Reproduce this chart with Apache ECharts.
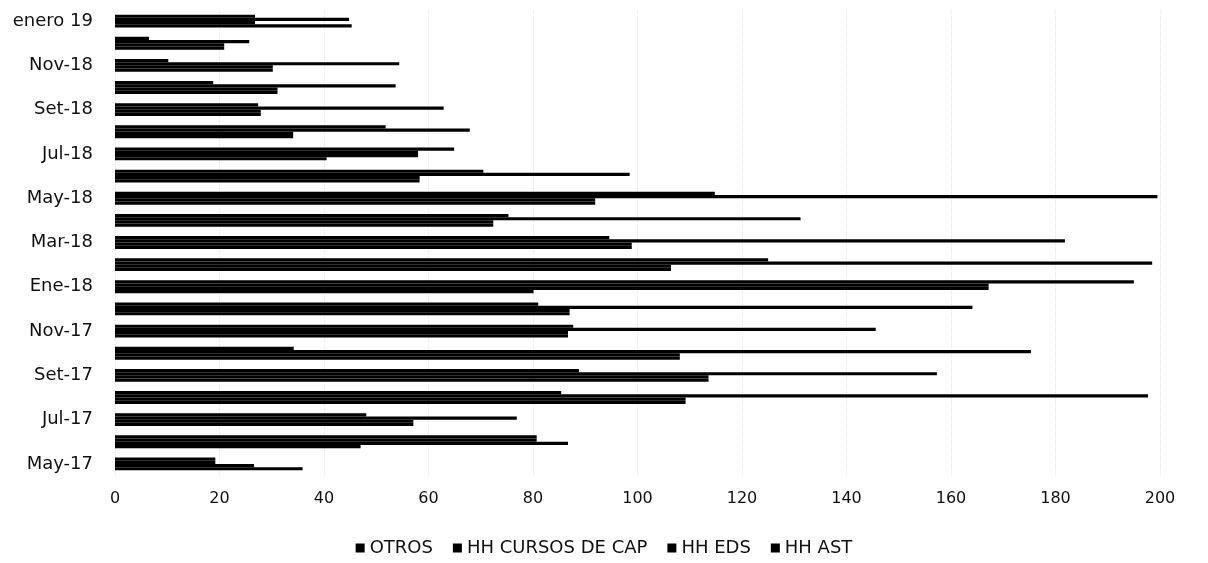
<!DOCTYPE html>
<html>
<head>
<meta charset="utf-8">
<script src="https://cdn.jsdelivr.net/npm/echarts@6/dist/echarts.min.js"></script>
<style>
html,body{margin:0;padding:0;background:#fff;}
#chart{width:1208px;height:563px;}
</style>
</head>
<body>
<div id="chart"></div>
<script>
// Categories (bottom to top on the chart)
const categories = ['May-17','Jun-17','Jul-17','Ago-17','Set-17','Oct-17','Nov-17','Dic-17','Ene-18','Feb-18','Mar-18','Abr-18','May-18','Jun-18','Jul-18','Ago-18','Set-18','Oct-18','Nov-18','Dic-18','enero 19'];

const hhAst    = [19.2, 80.7, 48.1, 85.4, 88.8, 34.2, 87.7, 81.0, 195.0, 125.0, 94.6, 75.3, 114.8, 70.5, 64.9, 51.8, 27.4, 18.8, 10.2, 6.5, 26.8];
const hhEds    = [19.2, 80.7, 76.9, 197.7, 157.3, 175.3, 145.6, 164.1, 167.2, 198.5, 181.8, 131.2, 199.5, 98.5, 58.0, 67.9, 62.9, 53.7, 54.4, 25.7, 44.8];
const hhCursos = [26.6, 86.7, 57.1, 109.2, 113.6, 108.1, 86.7, 87.0, 167.2, 106.4, 98.9, 72.4, 91.9, 58.3, 58.0, 34.1, 27.9, 31.1, 30.2, 20.9, 26.8];
const otros    = [35.9, 47.0, 57.1, 109.2, 113.6, 108.1, 86.7, 87.0, 80.1, 106.4, 98.9, 72.4, 91.9, 58.3, 40.5, 34.1, 27.9, 31.1, 30.2, 20.9, 45.3];

const xTicks = [0, 20, 40, 60, 80, 100, 120, 140, 160, 180, 200];
const legendNames = ['OTROS', 'HH CURSOS DE CAP', 'HH EDS', 'HH AST'];

const FONT = "'DejaVu Sans', 'Open Sans', sans-serif";
const chart = echarts.init(document.getElementById('chart'), null, {renderer: 'canvas'});

function barSeries(name, data) {
  return {
    name: name,
    type: 'bar',
    data: data,
    barGap: '0%',
    barCategoryGap: '42%',
    itemStyle: {color: '#000'},
    animation: false
  };
}

chart.setOption({
  animation: false,
  backgroundColor: '#fff',
  grid: {left: 115, right: 48, top: 10, bottom: 88, containLabel: false},
  xAxis: {
    type: 'value',
    min: xTicks[0],
    max: xTicks[xTicks.length - 1],
    interval: 20,
    axisLine: {show: false},
    axisTick: {show: false},
    axisLabel: {color: '#111', fontSize: 16, fontFamily: FONT, margin: 16},
    splitLine: {show: true, lineStyle: {color: '#e6e6e6', type: 'dotted', width: 1}}
  },
  yAxis: {
    type: 'category',
    data: categories,
    axisLine: {show: false},
    axisTick: {show: false},
    axisLabel: {color: '#111', fontSize: 18, fontFamily: FONT, interval: 1, margin: 22}
  },
  legend: {
    bottom: 1,
    left: 'center',
    data: legendNames,
    icon: 'rect',
    itemWidth: 9,
    itemHeight: 9,
    itemGap: 20,
    textStyle: {color: '#111', fontSize: 18, fontFamily: FONT}
  },
  series: [
    barSeries('HH AST', hhAst),
    barSeries('HH EDS', hhEds),
    barSeries('HH CURSOS DE CAP', hhCursos),
    barSeries('OTROS', otros)
  ]
});
</script>
</body>
</html>
